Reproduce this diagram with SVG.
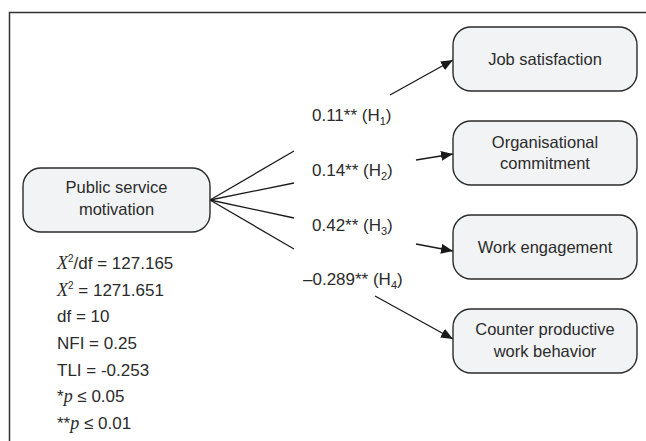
<svg xmlns="http://www.w3.org/2000/svg" width="646" height="441" viewBox="0 0 646 441">
<style>
.box{fill:#f2f3f5;stroke:#2b2b2b;stroke-width:1.4}
.t{font-family:"Liberation Sans",Arial,sans-serif;font-size:16.5px;fill:#2b2b2b}
.s{font-size:17px}
.m{font-family:"Liberation Serif","Times New Roman",serif;font-style:italic;font-size:18px}
.ln{stroke:#1a1a1a;stroke-width:1.3;fill:none}
</style>
<defs>
<marker id="ah" viewBox="0 0 12 10" refX="12" refY="5" markerWidth="12" markerHeight="10" markerUnits="userSpaceOnUse" orient="auto">
<path d="M0,0 L12,5 L0,10 z" fill="#1a1a1a"/>
</marker>
</defs>
<rect width="646" height="441" fill="#fff"/>
<path d="M9.5,441 V12.5 H646" fill="none" stroke="#333" stroke-width="1.5"/>
<g id="connectors">
<line class="ln" x1="210" y1="200" x2="294" y2="151"/>
<line class="ln" x1="210" y1="200" x2="294" y2="183"/>
<line class="ln" x1="210" y1="200" x2="294" y2="218"/>
<line class="ln" x1="210" y1="200" x2="294" y2="249"/>
<line class="ln" x1="390" y1="95" x2="453" y2="60" marker-end="url(#ah)"/>
<line class="ln" x1="416" y1="160" x2="453" y2="154" marker-end="url(#ah)"/>
<line class="ln" x1="416" y1="244" x2="453" y2="251" marker-end="url(#ah)"/>
<line class="ln" x1="375" y1="296" x2="453" y2="339" marker-end="url(#ah)"/>
</g>
<g id="labels">
<text class="t s" x="312" y="121">0.11** (H<tspan font-size="11" dy="4">1</tspan><tspan dy="-4">)</tspan></text>
<text class="t s" x="312" y="176">0.14** (H<tspan font-size="11" dy="4">2</tspan><tspan dy="-4">)</tspan></text>
<text class="t s" x="312" y="231">0.42** (H<tspan font-size="11" dy="4">3</tspan><tspan dy="-4">)</tspan></text>
<text class="t s" x="303" y="285">–0.289** (H<tspan font-size="11" dy="4">4</tspan><tspan dy="-4">)</tspan></text>
</g>
<g id="psm">
<rect class="box" x="23" y="168" width="187" height="64" rx="18"/>
<text class="t" x="116.5" y="193" text-anchor="middle">Public service</text>
<text class="t" x="116.5" y="215" text-anchor="middle">motivation</text>
</g>
<g id="job">
<rect class="box" x="453" y="27" width="184" height="64" rx="18"/>
<text class="t" x="545" y="65" text-anchor="middle">Job satisfaction</text>
</g>
<g id="org">
<rect class="box" x="453" y="121" width="184" height="64" rx="18"/>
<text class="t" x="545" y="148" text-anchor="middle">Organisational</text>
<text class="t" x="545" y="169" text-anchor="middle">commitment</text>
</g>
<g id="work">
<rect class="box" x="453" y="215" width="184" height="64" rx="18"/>
<text class="t" x="545" y="253" text-anchor="middle">Work engagement</text>
</g>
<g id="cwb">
<rect class="box" x="453" y="309" width="184" height="64" rx="18"/>
<text class="t" x="545" y="335" text-anchor="middle">Counter productive</text>
<text class="t" x="545" y="357" text-anchor="middle">work behavior</text>
</g>
<g id="stats">
<text class="t s" x="57" y="269"><tspan class="m">X</tspan><tspan font-size="10" dy="-7">2</tspan><tspan dy="7">/df = 127.165</tspan></text>
<text class="t s" x="57" y="296"><tspan class="m">X</tspan><tspan font-size="10" dy="-7">2</tspan><tspan dy="7"> = 1271.651</tspan></text>
<text class="t s" x="57" y="322">df = 10</text>
<text class="t s" x="57" y="349">NFI = 0.25</text>
<text class="t s" x="57" y="376">TLI = -0.253</text>
<text class="t s" x="57" y="402">*<tspan class="m">p</tspan> ≤ 0.05</text>
<text class="t s" x="57" y="429">**<tspan class="m">p</tspan> ≤ 0.01</text>
</g>
</svg>
